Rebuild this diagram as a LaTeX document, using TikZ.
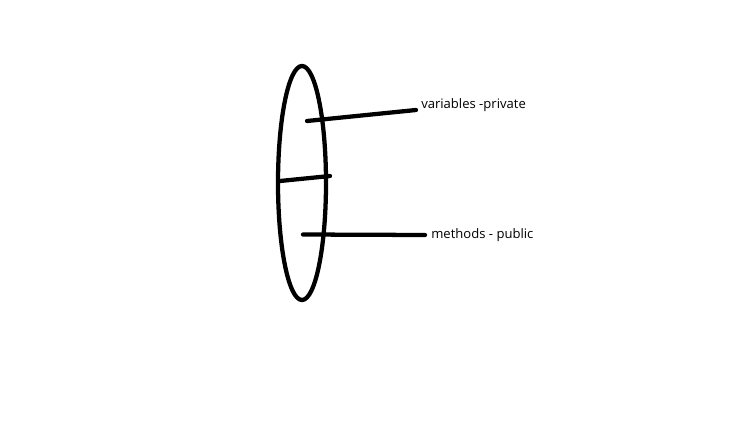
\documentclass[tikz,border=0pt]{standalone}
\usepackage{fontspec}
\setmainfont{Open Sans}
\begin{document}
\begin{tikzpicture}[x=0.75pt,y=-0.75pt,
  stroke/.style={line width=3.2pt,line cap=round,black},
  lbl/.style={anchor=west,inner sep=0pt,font=\fontsize{9.8pt}{12pt}\selectfont,text=black}]
\useasboundingbox (0,0) rectangle (750,446);
\draw[stroke] (302,183) ellipse [x radius=24, y radius=117];
\node[lbl] (var) at (421,105) {variables -private};
\node[lbl] (meth) at (431,235) {methods - public};
\coordinate (v1) at (307,121);
\coordinate (v2) at (416,110);
\coordinate (m1) at (280,181);
\coordinate (m2) at (330,176);
\coordinate (p1) at (303,234.5);
\coordinate (p2) at (425,235);
\draw[stroke] (v1) -- (v2);
\draw[stroke] (m1) -- (m2);
\draw[stroke] (p1) -- (p2);
\end{tikzpicture}
\end{document}
